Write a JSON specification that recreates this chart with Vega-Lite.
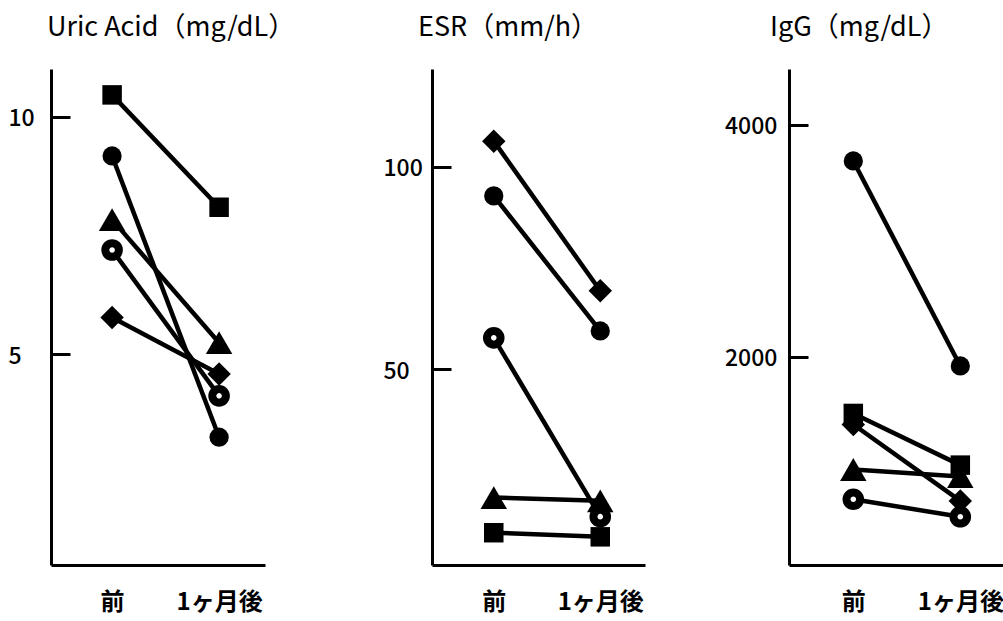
{
  "$schema": "https://vega.github.io/schema/vega-lite/v6.json",
  "background": "white",
  "padding": {"left": 8, "top": 14, "right": 0, "bottom": 0},
  "bounds": "flush",
  "spacing": 0,
  "datasets": {
    "d": [
      {"panel": "UA", "subject": "A", "time": "前", "value": 10.455},
      {"panel": "UA", "subject": "A", "time": "1ヶ月後", "value": 8.09},
      {"panel": "UA", "subject": "B", "time": "前", "value": 9.17},
      {"panel": "UA", "subject": "B", "time": "1ヶ月後", "value": 3.25},
      {"panel": "UA", "subject": "C", "time": "前", "value": 7.83},
      {"panel": "UA", "subject": "C", "time": "1ヶ月後", "value": 5.24},
      {"panel": "UA", "subject": "D", "time": "前", "value": 7.19},
      {"panel": "UA", "subject": "D", "time": "1ヶ月後", "value": 4.12},
      {"panel": "UA", "subject": "E", "time": "前", "value": 5.77},
      {"panel": "UA", "subject": "E", "time": "1ヶ月後", "value": 4.58},
      {"panel": "ESR", "subject": "A", "time": "前", "value": 9.74},
      {"panel": "ESR", "subject": "A", "time": "1ヶ月後", "value": 8.73},
      {"panel": "ESR", "subject": "B", "time": "前", "value": 92.8},
      {"panel": "ESR", "subject": "B", "time": "1ヶ月後", "value": 59.5},
      {"panel": "ESR", "subject": "C", "time": "前", "value": 18.4},
      {"panel": "ESR", "subject": "C", "time": "1ヶ月後", "value": 17.6},
      {"panel": "ESR", "subject": "D", "time": "前", "value": 57.8},
      {"panel": "ESR", "subject": "D", "time": "1ヶ月後", "value": 13.7},
      {"panel": "ESR", "subject": "E", "time": "前", "value": 106.3},
      {"panel": "ESR", "subject": "E", "time": "1ヶ月後", "value": 69.4},
      {"panel": "IgG", "subject": "A", "time": "前", "value": 1512},
      {"panel": "IgG", "subject": "A", "time": "1ヶ月後", "value": 1067},
      {"panel": "IgG", "subject": "B", "time": "前", "value": 3686},
      {"panel": "IgG", "subject": "B", "time": "1ヶ月後", "value": 1921},
      {"panel": "IgG", "subject": "C", "time": "前", "value": 1030},
      {"panel": "IgG", "subject": "C", "time": "1ヶ月後", "value": 969},
      {"panel": "IgG", "subject": "D", "time": "前", "value": 773},
      {"panel": "IgG", "subject": "D", "time": "1ヶ月後", "value": 622},
      {"panel": "IgG", "subject": "E", "time": "前", "value": 1417},
      {"panel": "IgG", "subject": "E", "time": "1ヶ月後", "value": 759}
    ]
  },
  "config": {
    "view": {"stroke": null},
    "font": "Noto Sans CJK JP",
    "title": {"fontSize": 27, "fontWeight": "normal", "color": "black", "anchor": "start", "frame": "group", "font": "Noto Sans CJK JP", "offset": 27},
    "axis": {"grid": false, "title": null, "domainColor": "black", "domainWidth": 3, "tickColor": "black", "tickWidth": 3, "labelColor": "black", "labelFont": "Noto Sans CJK JP"},
    "axisY": {"tickSize": -19, "labelAlign": "left", "labelBaseline": "middle", "labelFontSize": 23, "labelFontWeight": 500, "labelOffset": 2, "format": "d"},
    "axisX": {"ticks": false, "labelAngle": 0, "labelFontSize": 24, "labelFontWeight": "bold", "labelPadding": 25}
  },
  "hconcat": [
    {
      "width": 214,
      "height": 496,
      "title": {"text": "Uric Acid（mg/dL）", "dx": -4},
      "data": {"name": "d"},
      "transform": [{"filter": "datum.panel === 'UA'"}],
      "encoding": {
        "x": {"field": "time", "type": "ordinal", "sort": ["前", "1ヶ月後"], "scale": {"type": "point", "paddingOuter": 0.529, "align": 0.571}},
        "y": {"field": "value", "type": "quantitative", "scale": {"domain": [0.56, 11.0], "nice": false, "zero": false}, "axis": {"values": [5, 10], "labelPadding": 62}}
      },
      "layer": [
        {"mark": {"type": "line", "color": "black", "strokeWidth": 4.5}, "encoding": {"detail": {"field": "subject"}}},
        {"transform": [{"filter": "datum.subject !== 'D'"}], "mark": {"type": "point", "filled": true, "color": "black", "opacity": 1},
         "encoding": {"shape": {"field": "subject", "type": "nominal", "scale": {"domain": ["A", "B", "C", "E"], "range": ["square", "circle", "triangle-up", "diamond"]}, "legend": null},
                      "size": {"condition": [{"test": "datum.subject === 'C'", "value": 700}, {"test": "datum.subject === 'E'", "value": 550}, {"test": "datum.subject === 'B'", "value": 370}], "value": 380}}},
        {"transform": [{"filter": "datum.subject === 'D'"}], "mark": {"type": "point", "shape": "circle", "filled": false, "fill": "white", "stroke": "black", "strokeWidth": 8, "size": 185, "opacity": 1}, "encoding": {}}
      ]
    },
    {
      "width": 167,
      "height": 496,
      "data": {"values": []},
      "mark": {"type": "point", "opacity": 0},
      "encoding": {}
    },
    {
      "width": 213,
      "height": 496,
      "title": {"text": "ESR（mm/h）", "dx": -14},
      "data": {"name": "d"},
      "transform": [{"filter": "datum.panel === 'ESR'"}],
      "encoding": {
        "x": {"field": "time", "type": "ordinal", "sort": ["前", "1ヶ月後"], "scale": {"type": "point", "paddingOuter": 0.56, "align": 0.58}},
        "y": {"field": "value", "type": "quantitative", "scale": {"domain": [1.78, 124.1], "nice": false, "zero": false}, "axis": {"values": [50, 100], "labelPadding": 68}}
      },
      "layer": [
        {"mark": {"type": "line", "color": "black", "strokeWidth": 4.5}, "encoding": {"detail": {"field": "subject"}}},
        {"transform": [{"filter": "datum.subject !== 'D'"}], "mark": {"type": "point", "filled": true, "color": "black", "opacity": 1},
         "encoding": {"shape": {"field": "subject", "type": "nominal", "scale": {"domain": ["A", "B", "C", "E"], "range": ["square", "circle", "triangle-up", "diamond"]}, "legend": null},
                      "size": {"condition": [{"test": "datum.subject === 'C'", "value": 700}, {"test": "datum.subject === 'E'", "value": 550}, {"test": "datum.subject === 'B'", "value": 370}], "value": 380}}},
        {"transform": [{"filter": "datum.subject === 'D'"}], "mark": {"type": "point", "shape": "circle", "filled": false, "fill": "white", "stroke": "black", "strokeWidth": 8, "size": 185, "opacity": 1}, "encoding": {}}
      ]
    },
    {
      "width": 144,
      "height": 496,
      "data": {"values": []},
      "mark": {"type": "point", "opacity": 0},
      "encoding": {}
    },
    {
      "width": 214,
      "height": 496,
      "title": {"text": "IgG（mg/dL）", "dx": -19},
      "data": {"name": "d"},
      "transform": [{"filter": "datum.panel === 'IgG'"}],
      "encoding": {
        "x": {"field": "time", "type": "ordinal", "sort": ["前", "1ヶ月後"], "scale": {"type": "point", "paddingOuter": 0.723, "align": 0.601}},
        "y": {"field": "value", "type": "quantitative", "scale": {"domain": [207, 4478], "nice": false, "zero": false}, "axis": {"values": [2000, 4000], "labelPadding": 83.5}}
      },
      "layer": [
        {"mark": {"type": "line", "color": "black", "strokeWidth": 4.5}, "encoding": {"detail": {"field": "subject"}}},
        {"transform": [{"filter": "datum.subject !== 'D'"}], "mark": {"type": "point", "filled": true, "color": "black", "opacity": 1},
         "encoding": {"shape": {"field": "subject", "type": "nominal", "scale": {"domain": ["A", "B", "C", "E"], "range": ["square", "circle", "triangle-up", "diamond"]}, "legend": null},
                      "size": {"condition": [{"test": "datum.subject === 'C'", "value": 700}, {"test": "datum.subject === 'E'", "value": 550}, {"test": "datum.subject === 'B'", "value": 370}], "value": 380}}},
        {"transform": [{"filter": "datum.subject === 'D'"}], "mark": {"type": "point", "shape": "circle", "filled": false, "fill": "white", "stroke": "black", "strokeWidth": 8, "size": 185, "opacity": 1}, "encoding": {}}
      ]
    }
  ]
}
